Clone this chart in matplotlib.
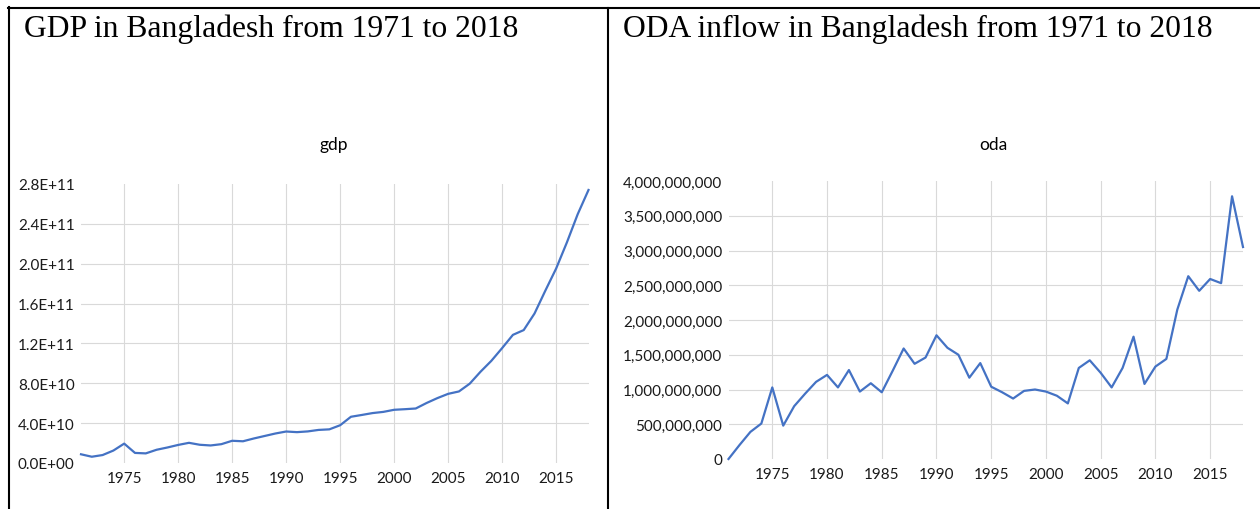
import matplotlib
matplotlib.use("Agg")
import matplotlib.pyplot as plt
from matplotlib.lines import Line2D
from matplotlib.ticker import FuncFormatter

years = list(range(1971, 2019))

# GDP, current US$ (billions)
gdp_bn = [8.75, 6.29, 7.98, 12.5, 19.45, 10.12, 9.65, 13.28, 15.56, 18.14,
          20.25, 18.3, 17.6, 18.9, 22.3, 21.8, 24.6, 27.1, 29.6, 31.6,
          30.96, 31.7, 33.2, 33.77, 37.9, 46.4, 48.2, 50.1, 51.3, 53.4,
          54.0, 54.7, 60.2, 65.1, 69.4, 71.8, 79.6, 91.6, 102.5, 115.3,
          128.6, 133.4, 150.0, 172.9, 195.1, 221.4, 249.7, 274.0]

# ODA inflow, US$ (billions)
oda_bn = [0.0, 0.20, 0.39, 0.51, 1.03, 0.48, 0.76, 0.94, 1.11, 1.21,
          1.03, 1.28, 0.97, 1.09, 0.96, 1.27, 1.59, 1.37, 1.46, 1.78,
          1.60, 1.50, 1.17, 1.38, 1.04, 0.96, 0.87, 0.98, 1.00, 0.97,
          0.91, 0.80, 1.31, 1.42, 1.24, 1.03, 1.31, 1.76, 1.08, 1.33,
          1.44, 2.15, 2.63, 2.42, 2.59, 2.53, 3.78, 3.05]

x_ticks = [1975, 1980, 1985, 1990, 1995, 2000, 2005, 2010, 2015]
gdp_ticks = [0, 4e10, 8e10, 1.2e11, 1.6e11, 2.0e11, 2.4e11, 2.8e11]
oda_ticks = [0, 5e8, 1e9, 1.5e9, 2e9, 2.5e9, 3e9, 3.5e9, 4e9]

W, H = 1260, 510
BLUE = "#4472C4"
GRID = "#d9d9d9"
TICK_FONT = ["Lato", "DejaVu Sans"]
SERIF = ["Liberation Serif", "DejaVu Serif"]

fig = plt.figure(figsize=(W / 100, H / 100), dpi=100)


def px(x):
    return x / W


def py(y):
    return 1 - y / H


def make_axes(x0, x1, y_top, y_bot):
    return fig.add_axes([px(x0), py(y_bot), px(x1 - x0), (y_bot - y_top) / H])


def style(ax, yticks, fmt):
    ax.set_xlim(1971, 2018)
    ax.set_ylim(yticks[0], yticks[-1])
    ax.set_xticks(x_ticks)
    ax.set_yticks(yticks)
    ax.yaxis.set_major_formatter(FuncFormatter(fmt))
    for s in ax.spines.values():
        s.set_visible(False)
    ax.tick_params(length=0, labelsize=11, colors="#1a1a1a")
    ax.tick_params(axis="y", pad=4.5)
    ax.tick_params(axis="x", pad=6)
    for lab in ax.get_xticklabels() + ax.get_yticklabels():
        lab.set_family(TICK_FONT)
    ax.grid(True, color=GRID, lw=0.8)
    ax.set_axisbelow(True)
    gl = ax.get_ygridlines()
    gl[0].set_visible(False)
    gl[-1].set_visible(False)


# GDP chart
ax1 = make_axes(81, 588.5, 185, 464)
ax1.plot(years, [v * 1e9 for v in gdp_bn], color=BLUE, lw=1.6, clip_on=False)
style(ax1, gdp_ticks, lambda v, p: "{:.1E}".format(v))

# ODA chart
ax2 = make_axes(728.5, 1243, 182, 460)
ax2.plot(years, [v * 1e9 for v in oda_bn], color=BLUE, lw=1.6, clip_on=False)
style(ax2, oda_ticks, lambda v, p: "{:,.0f}".format(v))

# chart titles
fig.text(px(334), py(150), "gdp", ha="center", va="baseline",
         fontsize=12.5, family=TICK_FONT, color="#000000")
fig.text(px(993), py(150), "oda", ha="center", va="baseline",
         fontsize=12.5, family=TICK_FONT, color="#000000")

# table headings
fig.text(px(24), py(37), "GDP in Bangladesh from 1971 to 2018", ha="left",
         va="baseline", fontsize=22.8, family=SERIF)
fig.text(px(623), py(37), "ODA inflow in Bangladesh from 1971 to 2018",
         ha="left", va="baseline", fontsize=22.8, family=SERIF)

# table borders
for xs, ys in [((8, W), (9, 9)), ((9, 9), (8, H)), ((607.5, 607.5), (9, H))]:
    fig.add_artist(Line2D([px(x) for x in xs], [py(y) for y in ys],
                          color="black", lw=1.5, transform=fig.transFigure))

fig.savefig("out.png", dpi=100)
